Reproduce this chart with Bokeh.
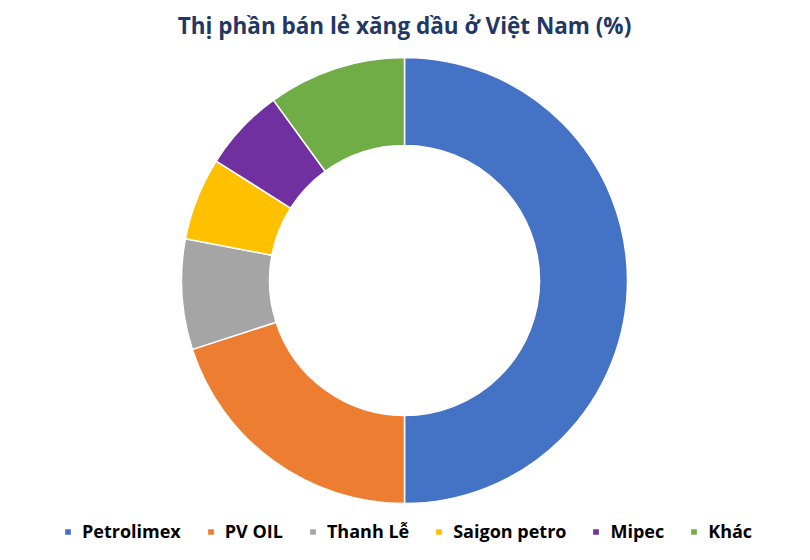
import numpy as np
from bokeh.plotting import figure
from bokeh.models import ColumnDataSource, Label, Legend, LegendItem, Range1d
from bokeh.embed import file_html
from bokeh.resources import INLINE

# ---- data ----
categories = ["Petrolimex", "PV OIL", "Thanh Lễ", "Saigon petro", "Mipec", "Khác"]
shares = [50, 20, 8, 6, 6, 10]
colors = ["#4472C4", "#ED7D31", "#A5A5A5", "#FFC000", "#7030A0", "#70AD47"]
title_text = "Thị phần bán lẻ xăng dầu ở Việt Nam (%)"

FONT = "Open Sans"

frac = np.array(shares, dtype=float) / sum(shares)
ends = np.cumsum(frac)
starts = ends - frac
src = ColumnDataSource(dict(
    cat=categories,
    share=shares,
    color=colors,
    start=np.pi / 2 - 2 * np.pi * starts,
    end=np.pi / 2 - 2 * np.pi * ends,
))

p = figure(width=794, height=544, x_range=Range1d(-404, 390), y_range=Range1d(-264, 280),
           output_backend="svg", toolbar_location=None, min_border=0)
p.axis.visible = False
p.grid.visible = False
p.outline_line_color = None
p.background_fill_color = "white"
p.border_fill_color = "white"

r = p.annular_wedge(x=0, y=0, inner_radius=135, outer_radius=223,
                    start_angle="start", end_angle="end", direction="clock",
                    fill_color="color", line_color="white", line_width=1.5, source=src)

items = [LegendItem(label=c, renderers=[r], index=i) for i, c in enumerate(categories)]
legend = Legend(items=items, orientation="horizontal", location=(63, 1),
                border_line_color=None, background_fill_alpha=0,
                label_text_font=FONT, label_text_font_style="bold",
                label_text_font_size="18px", label_text_color="#000000",
                glyph_width=9, glyph_height=9, label_standoff=10, spacing=25,
                padding=0, margin=0)
p.add_layout(legend)

p.add_layout(Label(x=0, y=255, text=title_text, text_align="center",
                   text_baseline="alphabetic", text_font=FONT, text_font_style="bold",
                   text_font_size="22.5px", text_color="#1F3864"))

open("out.html", "w").write(file_html(p, INLINE))
